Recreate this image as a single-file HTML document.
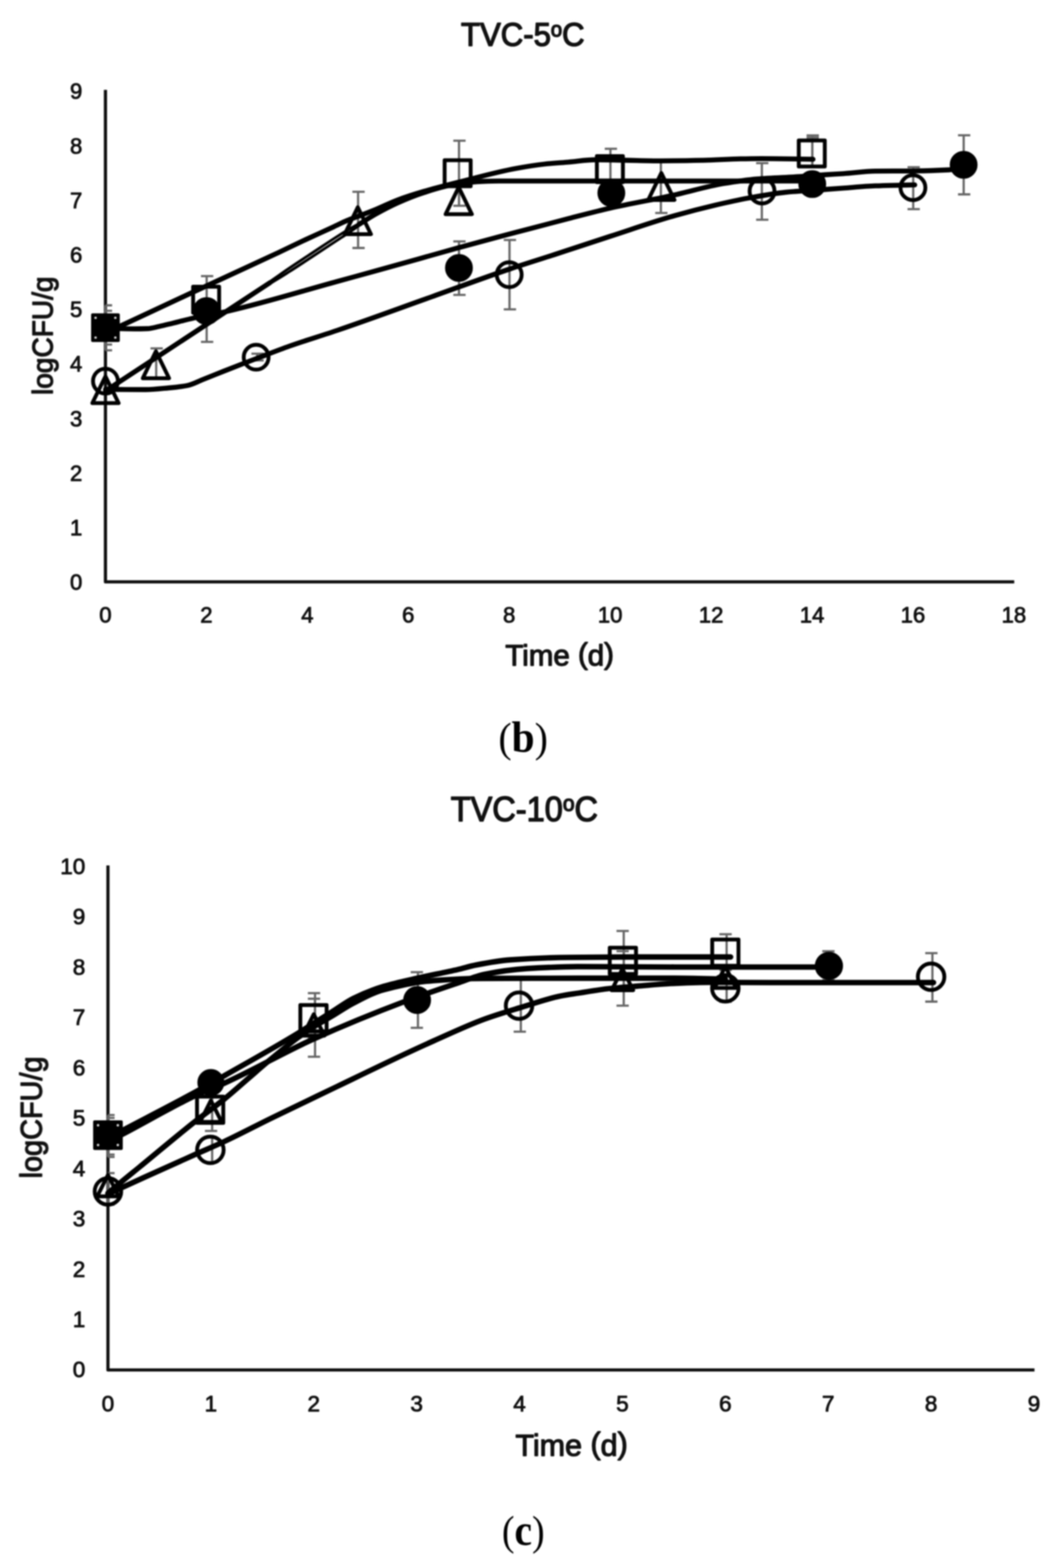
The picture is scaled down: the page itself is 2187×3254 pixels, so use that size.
<!DOCTYPE html>
<html lang="en">
<head>
<meta charset="utf-8">
<title>TVC growth curves</title>
<style>
html,body{margin:0;padding:0;background:#fff;}
body{width:2187px;height:3254px;overflow:hidden;}
svg{display:block;}
</style>
</head>
<body>
<svg width="2187" height="3254" viewBox="0 0 2187 3254">
<rect x="0" y="0" width="2187" height="3254" fill="#fff"/>
<g style="filter:blur(1.5px)">
<path d="M218.8 186.5 V1207.5 H2104.5" fill="none" stroke="#0d0d0d" stroke-width="6.6" stroke-linejoin="round" stroke-linecap="butt"/>
<text x="170.8" y="1224.2" font-family="'Liberation Sans', Arial, sans-serif" font-size="45.8" font-weight="normal" text-anchor="end" fill="#111" stroke="#111" stroke-width="1.6" stroke-linejoin="round">0</text>
<text x="170.8" y="1111.0" font-family="'Liberation Sans', Arial, sans-serif" font-size="45.8" font-weight="normal" text-anchor="end" fill="#111" stroke="#111" stroke-width="1.6" stroke-linejoin="round">1</text>
<text x="170.8" y="997.8" font-family="'Liberation Sans', Arial, sans-serif" font-size="45.8" font-weight="normal" text-anchor="end" fill="#111" stroke="#111" stroke-width="1.6" stroke-linejoin="round">2</text>
<text x="170.8" y="884.6" font-family="'Liberation Sans', Arial, sans-serif" font-size="45.8" font-weight="normal" text-anchor="end" fill="#111" stroke="#111" stroke-width="1.6" stroke-linejoin="round">3</text>
<text x="170.8" y="771.4" font-family="'Liberation Sans', Arial, sans-serif" font-size="45.8" font-weight="normal" text-anchor="end" fill="#111" stroke="#111" stroke-width="1.6" stroke-linejoin="round">4</text>
<text x="170.8" y="658.2" font-family="'Liberation Sans', Arial, sans-serif" font-size="45.8" font-weight="normal" text-anchor="end" fill="#111" stroke="#111" stroke-width="1.6" stroke-linejoin="round">5</text>
<text x="170.8" y="545.0" font-family="'Liberation Sans', Arial, sans-serif" font-size="45.8" font-weight="normal" text-anchor="end" fill="#111" stroke="#111" stroke-width="1.6" stroke-linejoin="round">6</text>
<text x="170.8" y="431.8" font-family="'Liberation Sans', Arial, sans-serif" font-size="45.8" font-weight="normal" text-anchor="end" fill="#111" stroke="#111" stroke-width="1.6" stroke-linejoin="round">7</text>
<text x="170.8" y="318.6" font-family="'Liberation Sans', Arial, sans-serif" font-size="45.8" font-weight="normal" text-anchor="end" fill="#111" stroke="#111" stroke-width="1.6" stroke-linejoin="round">8</text>
<text x="170.8" y="205.4" font-family="'Liberation Sans', Arial, sans-serif" font-size="45.8" font-weight="normal" text-anchor="end" fill="#111" stroke="#111" stroke-width="1.6" stroke-linejoin="round">9</text>
<text x="218.8" y="1291.5" font-family="'Liberation Sans', Arial, sans-serif" font-size="45.8" font-weight="normal" text-anchor="middle" fill="#111" stroke="#111" stroke-width="1.6" stroke-linejoin="round">0</text>
<text x="428.2" y="1291.5" font-family="'Liberation Sans', Arial, sans-serif" font-size="45.8" font-weight="normal" text-anchor="middle" fill="#111" stroke="#111" stroke-width="1.6" stroke-linejoin="round">2</text>
<text x="637.7" y="1291.5" font-family="'Liberation Sans', Arial, sans-serif" font-size="45.8" font-weight="normal" text-anchor="middle" fill="#111" stroke="#111" stroke-width="1.6" stroke-linejoin="round">4</text>
<text x="847.1" y="1291.5" font-family="'Liberation Sans', Arial, sans-serif" font-size="45.8" font-weight="normal" text-anchor="middle" fill="#111" stroke="#111" stroke-width="1.6" stroke-linejoin="round">6</text>
<text x="1056.6" y="1291.5" font-family="'Liberation Sans', Arial, sans-serif" font-size="45.8" font-weight="normal" text-anchor="middle" fill="#111" stroke="#111" stroke-width="1.6" stroke-linejoin="round">8</text>
<text x="1266.0" y="1291.5" font-family="'Liberation Sans', Arial, sans-serif" font-size="45.8" font-weight="normal" text-anchor="middle" fill="#111" stroke="#111" stroke-width="1.6" stroke-linejoin="round">10</text>
<text x="1475.4" y="1291.5" font-family="'Liberation Sans', Arial, sans-serif" font-size="45.8" font-weight="normal" text-anchor="middle" fill="#111" stroke="#111" stroke-width="1.6" stroke-linejoin="round">12</text>
<text x="1684.9" y="1291.5" font-family="'Liberation Sans', Arial, sans-serif" font-size="45.8" font-weight="normal" text-anchor="middle" fill="#111" stroke="#111" stroke-width="1.6" stroke-linejoin="round">14</text>
<text x="1894.3" y="1291.5" font-family="'Liberation Sans', Arial, sans-serif" font-size="45.8" font-weight="normal" text-anchor="middle" fill="#111" stroke="#111" stroke-width="1.6" stroke-linejoin="round">16</text>
<text x="2103.8" y="1291.5" font-family="'Liberation Sans', Arial, sans-serif" font-size="45.8" font-weight="normal" text-anchor="middle" fill="#111" stroke="#111" stroke-width="1.6" stroke-linejoin="round">18</text>
<text x="956.5" y="95.3" font-family="'Liberation Sans', Arial, sans-serif" font-size="68" fill="#111" stroke="#111" stroke-width="2.6" stroke-linejoin="round" textLength="256.5" lengthAdjust="spacingAndGlyphs">TVC-5<tspan font-size="44" dy="-19.5">o</tspan><tspan dy="19.5">C</tspan></text>
<text x="1048.5" y="1381.3" font-family="'Liberation Sans', Arial, sans-serif" font-size="61.5" fill="#111" stroke="#111" stroke-width="2.3" stroke-linejoin="round" textLength="225.5" lengthAdjust="spacingAndGlyphs">Time <tspan dy="-4">(</tspan><tspan dy="4">d</tspan><tspan dy="-4">)</tspan></text>
<text transform="translate(109 696.7) rotate(-90)" font-family="'Liberation Sans', Arial, sans-serif" font-size="60" fill="#111" stroke="#111" stroke-width="2.3" stroke-linejoin="round" text-anchor="middle" textLength="246" lengthAdjust="spacingAndGlyphs">logCFU/g</text>
<text x="1085.5" y="1560" font-family="'Liberation Serif', serif" font-size="86" fill="#000" text-anchor="middle" textLength="102.5" lengthAdjust="spacingAndGlyphs">(<tspan font-weight="bold" font-size="90">b</tspan>)</text>
<path d="M218.8 633.6 V727.0 M218.8 633.6 h13.8 M218.8 727.0 h13.8" fill="none" stroke="#666" stroke-width="4.6"/>
<path d="M218.8 645.0 V715.0 M218.8 645.0 h13.8 M218.8 715.0 h13.8" fill="none" stroke="#666" stroke-width="4.6"/>
<path d="M324.1 723.0 V786.0 M312.3 723.0 h25.5 M312.3 786.0 h25.5" fill="none" stroke="#666" stroke-width="4.6"/>
<path d="M428.8 573.0 V709.5 M417.0 573.0 h25.5 M417.0 709.5 h25.5" fill="none" stroke="#666" stroke-width="4.6"/>
<path d="M533.6 734.0 V748.0 M521.7 734.0 h25.5 M521.7 748.0 h25.5" fill="none" stroke="#666" stroke-width="4.6"/>
<path d="M743.0 398.0 V514.6 M731.2 398.0 h25.5 M731.2 514.6 h25.5" fill="none" stroke="#666" stroke-width="4.6"/>
<path d="M952.4 292.0 V427.0 M940.6 292.0 h25.5 M940.6 427.0 h25.5" fill="none" stroke="#666" stroke-width="4.6"/>
<path d="M952.4 501.0 V612.0 M940.6 501.0 h25.5 M940.6 612.0 h25.5" fill="none" stroke="#666" stroke-width="4.6"/>
<path d="M1057.2 498.0 V642.0 M1045.3 498.0 h25.5 M1045.3 642.0 h25.5" fill="none" stroke="#666" stroke-width="4.6"/>
<path d="M1266.6 308.7 V393.0 M1254.8 308.7 h25.5 M1254.8 393.0 h25.5" fill="none" stroke="#666" stroke-width="4.6"/>
<path d="M1371.3 332.0 V442.0 M1359.5 332.0 h25.5 M1359.5 442.0 h25.5" fill="none" stroke="#666" stroke-width="4.6"/>
<path d="M1580.8 338.5 V456.0 M1568.9 338.5 h25.5 M1568.9 456.0 h25.5" fill="none" stroke="#666" stroke-width="4.6"/>
<path d="M1685.5 281.0 V346.0 M1673.6 281.0 h25.5 M1673.6 346.0 h25.5" fill="none" stroke="#666" stroke-width="4.6"/>
<path d="M1685.5 285.5 V346.0 M1673.6 285.5 h25.5 M1673.6 346.0 h25.5" fill="none" stroke="#666" stroke-width="4.6"/>
<path d="M1894.9 347.0 V434.0 M1883.1 347.0 h25.5 M1883.1 434.0 h25.5" fill="none" stroke="#666" stroke-width="4.6"/>
<path d="M1999.6 280.7 V403.4 M1987.8 280.7 h25.5 M1987.8 403.4 h25.5" fill="none" stroke="#666" stroke-width="4.6"/>
<path d="M219.0 691.0 C251.5 675.8 284.0 660.7 316.5 645.5 C343.6 632.8 370.7 620.1 397.8 607.5 C438.5 588.6 479.3 569.9 520.0 551.0 C539.1 542.1 558.3 533.3 577.4 524.3 C596.5 515.3 615.7 505.9 634.8 497.0 C653.9 488.1 673.1 479.6 692.2 470.7 C701.8 466.3 711.3 461.3 720.9 457.3 C728.3 454.2 735.6 451.8 743.0 449.0 C755.3 444.3 767.7 439.6 780.0 434.5 C795.0 428.3 810.0 420.6 825.0 415.0 C843.3 408.1 861.7 402.4 880.0 397.0 C903.9 390.0 927.7 384.0 951.6 378.0 C991.4 368.0 1031.2 356.7 1071.0 349.5 C1090.7 345.9 1110.3 342.6 1130.0 340.5 C1146.7 338.7 1163.3 337.7 1180.0 336.3 C1198.7 334.7 1217.3 331.5 1236.0 331.5 C1255.7 331.5 1275.3 332.2 1295.0 332.5 C1320.3 332.9 1345.7 333.8 1371.0 333.8 C1400.7 333.8 1430.3 333.3 1460.0 332.7 C1485.7 332.2 1511.3 330.1 1537.0 329.7 C1551.3 329.5 1565.7 329.2 1580.0 329.2 C1615.7 329.2 1651.3 330.1 1687.0 330.5" fill="none" stroke="#000" stroke-width="10.3" stroke-linecap="round" stroke-linejoin="round"/>
<path d="M219.0 681.5 C239.3 681.8 259.7 682.5 280.0 682.5 C288.7 682.5 297.3 682.3 306.0 682.0 C314.0 681.7 322.0 679.2 330.0 677.5 C337.0 676.0 344.0 674.3 351.0 672.6 C368.0 668.5 385.0 663.8 402.0 660.0 C426.0 654.6 450.0 650.8 474.0 645.4 C549.3 628.3 624.7 604.6 700.0 584.0 C726.7 576.7 753.3 569.4 780.0 562.0 C810.0 553.7 840.0 545.4 870.0 537.0 C897.2 529.4 924.4 521.5 951.6 514.0 C979.4 506.3 1007.2 498.9 1035.0 491.5 C1056.7 485.7 1078.3 480.2 1100.0 474.5 C1126.7 467.5 1153.3 460.3 1180.0 453.5 C1208.6 446.2 1237.1 438.5 1265.7 432.0 C1309.0 422.2 1352.2 414.9 1395.5 405.5 C1430.6 397.9 1465.6 386.9 1500.7 381.0 C1524.1 377.1 1547.6 373.4 1571.0 371.5 C1600.7 369.1 1630.3 368.4 1660.0 366.5 C1678.0 365.3 1696.0 363.7 1714.0 362.5 C1726.0 361.7 1738.0 361.1 1750.0 360.3 C1772.0 358.8 1794.0 355.4 1816.0 355.2 C1841.3 354.9 1866.7 355.0 1892.0 354.8 C1917.7 354.6 1943.3 353.7 1969.0 352.5 C1979.3 352.0 1989.7 350.8 2000.0 350.0" fill="none" stroke="#000" stroke-width="10.3" stroke-linecap="round" stroke-linejoin="round"/>
<path d="M219.0 811.3 C279.3 771.6 339.7 731.8 400.0 692.1 C453.3 657.0 506.7 621.8 560.0 586.7" fill="none" stroke="#000" stroke-width="10.3" stroke-linecap="round" stroke-linejoin="round"/>
<path d="M745.0 465.5 C756.7 458.3 768.3 450.5 780.0 444.0 C795.0 435.6 810.0 427.7 825.0 421.0 C843.3 412.8 861.7 405.3 880.0 399.5 C903.9 392.0 927.7 384.2 951.6 381.0 C967.7 378.9 983.9 377.1 1000.0 376.5 C1012.0 376.1 1024.0 375.7 1036.0 375.7 C1090.7 375.7 1145.3 375.7 1200.0 375.7 C1266.7 375.7 1333.3 375.7 1400.0 375.7 C1495.3 375.7 1590.7 375.7 1686.0 375.7" fill="none" stroke="#000" stroke-width="10.3" stroke-linecap="round" stroke-linejoin="round"/>
<path d="M219.0 808.0 C246.7 808.2 274.3 808.5 302.0 808.5 C318.0 808.5 334.0 806.5 350.0 805.0 C363.0 803.8 376.0 802.6 389.0 800.0 C399.3 798.0 409.7 792.1 420.0 788.0 C428.3 784.7 436.7 781.3 445.0 778.0 C465.3 769.9 485.7 761.8 506.0 754.0 C514.5 750.7 523.1 747.5 531.6 744.3 C554.4 735.7 577.2 726.6 600.0 718.5 C633.3 706.7 666.7 696.9 700.0 685.5 C765.2 663.3 830.3 639.2 895.5 616.0 C949.3 596.8 1003.2 576.6 1057.0 558.5 C1088.0 548.1 1119.0 538.6 1150.0 528.5 C1188.6 516.0 1227.1 503.0 1265.7 490.5 C1310.5 476.0 1355.2 460.2 1400.0 447.5 C1427.7 439.6 1455.3 432.5 1483.0 426.0 C1506.3 420.5 1529.7 415.2 1553.0 411.0 C1578.7 406.4 1604.3 401.5 1630.0 399.0 C1658.0 396.2 1686.0 395.1 1714.0 393.0 C1726.0 392.1 1738.0 391.2 1750.0 390.3 C1772.0 388.7 1794.0 386.6 1816.0 385.7 C1833.0 385.0 1850.0 384.7 1867.0 384.3 C1877.3 384.1 1887.7 383.9 1898.0 383.7" fill="none" stroke="#000" stroke-width="10.3" stroke-linecap="round" stroke-linejoin="round"/>
<path d="M560.0 584.6 C566.7 579.9 573.3 575.2 580.0 570.5 C586.7 565.8 593.3 561.1 600.0 556.6 C616.7 545.2 633.3 534.4 650.0 523.4 C666.7 512.4 683.3 501.1 700.0 490.5 C707.3 485.8 714.7 481.2 722.0 476.9 C729.7 472.4 737.3 468.2 745.0 463.9" fill="none" stroke="#000" stroke-width="5.6" stroke-linecap="round" stroke-linejoin="round"/>
<path d="M560.0 588.8 C566.7 584.7 573.3 580.6 580.0 576.5 C586.7 572.4 593.3 568.2 600.0 564.0 C616.7 553.4 633.3 542.3 650.0 531.4 C666.7 520.5 683.3 509.4 700.0 498.5 C707.3 493.7 714.7 489.0 722.0 484.1 C729.7 478.9 737.3 473.4 745.0 468.1" fill="none" stroke="#000" stroke-width="5.6" stroke-linecap="round" stroke-linejoin="round"/>
<rect x="192.3" y="653.5" width="53.0" height="53.0" fill="#000" stroke="#000" stroke-width="6.5" stroke-linejoin="round"/>
<circle cx="198.3" cy="659.5" r="2.6" fill="#cfcfcf"/>
<circle cx="198.3" cy="700.5" r="2.6" fill="#cfcfcf"/>
<circle cx="239.3" cy="659.5" r="2.6" fill="#cfcfcf"/>
<circle cx="239.3" cy="700.5" r="2.6" fill="#cfcfcf"/>
<rect x="400.7" y="595.0" width="54.0" height="54.0" fill="none" stroke="#000" stroke-width="8" stroke-linejoin="round"/>
<rect x="922.6" y="332.5" width="54.0" height="54.0" fill="none" stroke="#000" stroke-width="8" stroke-linejoin="round"/>
<rect x="1238.5" y="324.0" width="54.0" height="54.0" fill="none" stroke="#000" stroke-width="8" stroke-linejoin="round"/>
<rect x="1657.4" y="291.5" width="54.0" height="54.0" fill="none" stroke="#000" stroke-width="8" stroke-linejoin="round"/>
<circle cx="428.7" cy="645.7" r="25.6" fill="#000" stroke="#000" stroke-width="6.5"/>
<circle cx="952.3" cy="556.0" r="25.6" fill="#000" stroke="#000" stroke-width="6.5"/>
<circle cx="1268.5" cy="400.6" r="25.6" fill="#000" stroke="#000" stroke-width="6.5"/>
<circle cx="1685.4" cy="382.0" r="25.6" fill="#000" stroke="#000" stroke-width="6.5"/>
<circle cx="1999.5" cy="342.0" r="25.6" fill="#000" stroke="#000" stroke-width="6.5"/>
<path d="M218.8 780.9 L246.1 836.6 L191.6 836.6 Z" fill="none" stroke="#000" stroke-width="8" stroke-linejoin="round"/>
<path d="M323.5 729.1 L350.8 784.9 L296.3 784.9 Z" fill="none" stroke="#000" stroke-width="8" stroke-linejoin="round"/>
<path d="M742.4 430.1 L769.7 485.9 L715.2 485.9 Z" fill="none" stroke="#000" stroke-width="8" stroke-linejoin="round"/>
<path d="M951.8 388.6 L979.1 444.4 L924.6 444.4 Z" fill="none" stroke="#000" stroke-width="8" stroke-linejoin="round"/>
<path d="M1372.2 359.1 L1399.5 414.9 L1345.0 414.9 Z" fill="none" stroke="#000" stroke-width="8" stroke-linejoin="round"/>
<circle cx="218.8" cy="791.0" r="25.8" fill="none" stroke="#000" stroke-width="8"/>
<circle cx="531.5" cy="741.3" r="25.8" fill="none" stroke="#000" stroke-width="8"/>
<circle cx="1056.6" cy="570.0" r="25.8" fill="none" stroke="#000" stroke-width="8"/>
<circle cx="1581.2" cy="396.4" r="25.8" fill="none" stroke="#000" stroke-width="8"/>
<circle cx="1894.3" cy="389.4" r="25.8" fill="none" stroke="#000" stroke-width="8"/>
<path d="M224.0 1796 V2843.0 H2146.5" fill="none" stroke="#0d0d0d" stroke-width="6.6" stroke-linejoin="round" stroke-linecap="butt"/>
<text x="177.0" y="2858.4" font-family="'Liberation Sans', Arial, sans-serif" font-size="46.7" font-weight="normal" text-anchor="end" fill="#111" stroke="#111" stroke-width="1.6" stroke-linejoin="round">0</text>
<text x="177.0" y="2754.0" font-family="'Liberation Sans', Arial, sans-serif" font-size="46.7" font-weight="normal" text-anchor="end" fill="#111" stroke="#111" stroke-width="1.6" stroke-linejoin="round">1</text>
<text x="177.0" y="2649.5" font-family="'Liberation Sans', Arial, sans-serif" font-size="46.7" font-weight="normal" text-anchor="end" fill="#111" stroke="#111" stroke-width="1.6" stroke-linejoin="round">2</text>
<text x="177.0" y="2545.1" font-family="'Liberation Sans', Arial, sans-serif" font-size="46.7" font-weight="normal" text-anchor="end" fill="#111" stroke="#111" stroke-width="1.6" stroke-linejoin="round">3</text>
<text x="177.0" y="2440.6" font-family="'Liberation Sans', Arial, sans-serif" font-size="46.7" font-weight="normal" text-anchor="end" fill="#111" stroke="#111" stroke-width="1.6" stroke-linejoin="round">4</text>
<text x="177.0" y="2336.2" font-family="'Liberation Sans', Arial, sans-serif" font-size="46.7" font-weight="normal" text-anchor="end" fill="#111" stroke="#111" stroke-width="1.6" stroke-linejoin="round">5</text>
<text x="177.0" y="2231.8" font-family="'Liberation Sans', Arial, sans-serif" font-size="46.7" font-weight="normal" text-anchor="end" fill="#111" stroke="#111" stroke-width="1.6" stroke-linejoin="round">6</text>
<text x="177.0" y="2127.3" font-family="'Liberation Sans', Arial, sans-serif" font-size="46.7" font-weight="normal" text-anchor="end" fill="#111" stroke="#111" stroke-width="1.6" stroke-linejoin="round">7</text>
<text x="177.0" y="2022.9" font-family="'Liberation Sans', Arial, sans-serif" font-size="46.7" font-weight="normal" text-anchor="end" fill="#111" stroke="#111" stroke-width="1.6" stroke-linejoin="round">8</text>
<text x="177.0" y="1918.4" font-family="'Liberation Sans', Arial, sans-serif" font-size="46.7" font-weight="normal" text-anchor="end" fill="#111" stroke="#111" stroke-width="1.6" stroke-linejoin="round">9</text>
<text x="177.0" y="1814.0" font-family="'Liberation Sans', Arial, sans-serif" font-size="46.7" font-weight="normal" text-anchor="end" fill="#111" stroke="#111" stroke-width="1.6" stroke-linejoin="round">10</text>
<text x="224.0" y="2929.2" font-family="'Liberation Sans', Arial, sans-serif" font-size="46.7" font-weight="normal" text-anchor="middle" fill="#111" stroke="#111" stroke-width="1.6" stroke-linejoin="round">0</text>
<text x="437.5" y="2929.2" font-family="'Liberation Sans', Arial, sans-serif" font-size="46.7" font-weight="normal" text-anchor="middle" fill="#111" stroke="#111" stroke-width="1.6" stroke-linejoin="round">1</text>
<text x="651.0" y="2929.2" font-family="'Liberation Sans', Arial, sans-serif" font-size="46.7" font-weight="normal" text-anchor="middle" fill="#111" stroke="#111" stroke-width="1.6" stroke-linejoin="round">2</text>
<text x="864.5" y="2929.2" font-family="'Liberation Sans', Arial, sans-serif" font-size="46.7" font-weight="normal" text-anchor="middle" fill="#111" stroke="#111" stroke-width="1.6" stroke-linejoin="round">3</text>
<text x="1078.0" y="2929.2" font-family="'Liberation Sans', Arial, sans-serif" font-size="46.7" font-weight="normal" text-anchor="middle" fill="#111" stroke="#111" stroke-width="1.6" stroke-linejoin="round">4</text>
<text x="1291.5" y="2929.2" font-family="'Liberation Sans', Arial, sans-serif" font-size="46.7" font-weight="normal" text-anchor="middle" fill="#111" stroke="#111" stroke-width="1.6" stroke-linejoin="round">5</text>
<text x="1505.0" y="2929.2" font-family="'Liberation Sans', Arial, sans-serif" font-size="46.7" font-weight="normal" text-anchor="middle" fill="#111" stroke="#111" stroke-width="1.6" stroke-linejoin="round">6</text>
<text x="1718.5" y="2929.2" font-family="'Liberation Sans', Arial, sans-serif" font-size="46.7" font-weight="normal" text-anchor="middle" fill="#111" stroke="#111" stroke-width="1.6" stroke-linejoin="round">7</text>
<text x="1932.0" y="2929.2" font-family="'Liberation Sans', Arial, sans-serif" font-size="46.7" font-weight="normal" text-anchor="middle" fill="#111" stroke="#111" stroke-width="1.6" stroke-linejoin="round">8</text>
<text x="2145.5" y="2929.2" font-family="'Liberation Sans', Arial, sans-serif" font-size="46.7" font-weight="normal" text-anchor="middle" fill="#111" stroke="#111" stroke-width="1.6" stroke-linejoin="round">9</text>
<text x="935.3" y="1703.6" font-family="'Liberation Sans', Arial, sans-serif" font-size="71.5" fill="#111" stroke="#111" stroke-width="2.6" stroke-linejoin="round" textLength="305.5" lengthAdjust="spacingAndGlyphs">TVC-10<tspan font-size="46" dy="-20.5">o</tspan><tspan dy="20.5">C</tspan></text>
<text x="1069.5" y="3020.6" font-family="'Liberation Sans', Arial, sans-serif" font-size="63" fill="#111" stroke="#111" stroke-width="2.3" stroke-linejoin="round" textLength="233" lengthAdjust="spacingAndGlyphs">Time <tspan dy="-4">(</tspan><tspan dy="4">d</tspan><tspan dy="-4">)</tspan></text>
<text transform="translate(86.5 2319) rotate(-90)" font-family="'Liberation Sans', Arial, sans-serif" font-size="62.5" fill="#111" stroke="#111" stroke-width="2.3" stroke-linejoin="round" text-anchor="middle" textLength="253" lengthAdjust="spacingAndGlyphs">logCFU/g</text>
<text x="1085.7" y="3206" font-family="'Liberation Serif', serif" font-size="86" fill="#000" text-anchor="middle" textLength="88.5" lengthAdjust="spacingAndGlyphs">(<tspan font-weight="bold" font-size="90">c</tspan>)</text>
<path d="M224.0 2314.0 V2401.0 M224.0 2314.0 h13.8 M224.0 2401.0 h13.8" fill="none" stroke="#666" stroke-width="4.6"/>
<path d="M224.0 2320.0 V2396.0 M224.0 2320.0 h13.8 M224.0 2396.0 h13.8" fill="none" stroke="#666" stroke-width="4.6"/>
<path d="M224.0 2434.5 V2500.0 M224.0 2434.5 h13.8 M224.0 2500.0 h13.8" fill="none" stroke="#666" stroke-width="4.6"/>
<path d="M440.2 2257.0 V2347.0 M425.2 2257.0 h25.5 M425.2 2347.0 h25.5" fill="none" stroke="#666" stroke-width="4.6"/>
<path d="M440.2 2360.0 V2412.0 M425.2 2360.0 h25.5 M425.2 2412.0 h25.5" fill="none" stroke="#666" stroke-width="4.6"/>
<path d="M653.7 2061.0 V2193.0 M638.8 2061.0 h25.5 M638.8 2193.0 h25.5" fill="none" stroke="#666" stroke-width="4.6"/>
<path d="M653.7 2072.6 V2153.0 M638.8 2072.6 h25.5 M638.8 2153.0 h25.5" fill="none" stroke="#666" stroke-width="4.6"/>
<path d="M867.2 2017.5 V2133.0 M852.2 2017.5 h25.5 M852.2 2133.0 h25.5" fill="none" stroke="#666" stroke-width="4.6"/>
<path d="M1080.7 2033.0 V2141.0 M1065.8 2033.0 h25.5 M1065.8 2141.0 h25.5" fill="none" stroke="#666" stroke-width="4.6"/>
<path d="M1294.2 1932.0 V2054.0 M1279.2 1932.0 h25.5 M1279.2 2054.0 h25.5" fill="none" stroke="#666" stroke-width="4.6"/>
<path d="M1294.2 1974.0 V2087.0 M1279.2 1974.0 h25.5 M1279.2 2087.0 h25.5" fill="none" stroke="#666" stroke-width="4.6"/>
<path d="M1507.7 1938.7 V2013.0 M1492.8 1938.7 h25.5 M1492.8 2013.0 h25.5" fill="none" stroke="#666" stroke-width="4.6"/>
<path d="M1507.7 2024.0 V2079.0 M1492.8 2024.0 h25.5 M1492.8 2079.0 h25.5" fill="none" stroke="#666" stroke-width="4.6"/>
<path d="M1721.2 1974.0 V2034.0 M1706.2 1974.0 h25.5 M1706.2 2034.0 h25.5" fill="none" stroke="#666" stroke-width="4.6"/>
<path d="M1934.7 1978.0 V2078.6 M1919.8 1978.0 h25.5 M1919.8 2078.6 h25.5" fill="none" stroke="#666" stroke-width="4.6"/>
<path d="M224.0 2361.7 C234.3 2356.3 244.5 2350.9 254.8 2345.5 C307.1 2318.0 359.4 2291.4 411.7 2262.7 C429.6 2252.9 447.4 2242.7 465.3 2232.5 C516.4 2203.4 567.5 2175.2 618.6 2144.0 C629.4 2137.4 640.2 2130.3 651.0 2123.5 C664.0 2115.3 677.0 2107.2 690.0 2099.0 C704.3 2090.0 718.7 2079.1 733.0 2072.0 C754.0 2061.6 775.0 2053.4 796.0 2047.0 C819.2 2040.0 842.3 2035.3 865.5 2030.0 C893.7 2023.6 921.8 2018.5 950.0 2012.0 C962.6 2009.1 975.1 2005.0 987.7 2002.6 C1011.1 1998.1 1034.6 1993.6 1058.0 1992.0 C1098.9 1989.1 1139.7 1987.3 1180.6 1986.8 C1220.4 1986.3 1260.2 1986.0 1300.0 1986.0 C1333.3 1986.0 1366.7 1986.0 1400.0 1986.0 C1438.7 1986.0 1477.3 1986.0 1516.0 1986.0" fill="none" stroke="#000" stroke-width="11.3" stroke-linecap="round" stroke-linejoin="round"/>
<path d="M224.0 2369.5 C234.3 2364.2 244.5 2358.9 254.8 2353.5 C307.1 2326.2 359.4 2294.8 411.7 2270.7 C429.6 2262.5 447.4 2256.0 465.3 2248.0 C527.2 2220.1 589.1 2183.8 651.0 2156.0 C713.3 2128.0 775.7 2102.4 838.0 2079.0 C875.3 2065.0 912.7 2052.6 950.0 2040.0 C968.3 2033.8 986.7 2025.6 1005.0 2022.0 C1034.3 2016.2 1063.7 2011.8 1093.0 2010.0 C1128.0 2007.9 1163.0 2006.0 1198.0 2006.0 C1265.3 2006.0 1332.7 2006.7 1400.0 2006.8 C1466.7 2006.9 1533.3 2006.9 1600.0 2006.9 C1640.0 2006.9 1680.0 2006.9 1720.0 2006.9" fill="none" stroke="#000" stroke-width="11.3" stroke-linecap="round" stroke-linejoin="round"/>
<path d="M224.0 2476.0 C232.2 2469.2 240.3 2462.3 248.5 2455.5 C262.3 2444.0 276.2 2432.8 290.0 2421.5 C328.0 2390.4 366.0 2358.0 404.0 2328.0 C424.4 2311.9 444.9 2297.6 465.3 2281.0 C482.4 2267.1 499.4 2251.7 516.5 2237.0 C529.3 2226.0 542.0 2214.6 554.8 2204.0 C576.1 2186.3 597.3 2168.5 618.6 2153.0 C629.4 2145.1 640.2 2137.8 651.0 2131.0 C664.0 2122.8 677.0 2115.8 690.0 2108.0 C704.3 2099.4 718.7 2089.4 733.0 2082.0 C754.0 2071.1 775.0 2059.6 796.0 2054.0 C830.7 2044.7 865.3 2037.5 900.0 2035.0 C933.3 2032.6 966.7 2030.7 1000.0 2030.5 C1066.7 2030.1 1133.3 2030.0 1200.0 2030.0 C1266.7 2030.0 1333.3 2030.0 1400.0 2030.0 C1435.0 2030.0 1470.0 2031.3 1505.0 2032.0" fill="none" stroke="#000" stroke-width="11.3" stroke-linecap="round" stroke-linejoin="round"/>
<path d="M224.0 2478.0 C249.3 2466.3 274.7 2454.5 300.0 2443.0 C334.8 2427.1 369.7 2411.6 404.5 2396.0 C424.8 2386.9 445.0 2378.5 465.3 2369.0 C496.9 2354.3 528.4 2337.5 560.0 2322.0 C606.7 2299.2 653.3 2276.9 700.0 2254.5 C745.9 2232.4 791.9 2210.0 837.8 2188.5 C858.5 2178.8 879.3 2169.2 900.0 2160.0 C935.0 2144.5 970.0 2127.8 1005.0 2115.0 C1029.3 2106.1 1053.7 2098.9 1078.0 2091.5 C1106.3 2082.9 1134.7 2072.7 1163.0 2067.0 C1175.3 2064.5 1187.7 2062.9 1200.0 2061.0 C1221.3 2057.7 1242.7 2053.8 1264.0 2051.5 C1283.3 2049.4 1302.7 2048.0 1322.0 2046.5 C1349.3 2044.3 1376.7 2041.6 1404.0 2040.5 C1427.7 2039.5 1451.3 2038.5 1475.0 2038.5 C1516.7 2038.5 1558.3 2039.2 1600.0 2039.2 C1633.3 2039.2 1666.7 2039.2 1700.0 2039.2 C1779.0 2039.2 1858.0 2039.1 1937.0 2039.0" fill="none" stroke="#000" stroke-width="11.3" stroke-linecap="round" stroke-linejoin="round"/>
<rect x="196.5" y="2328.2" width="55.0" height="55.0" fill="#000" stroke="#000" stroke-width="6.5" stroke-linejoin="round"/>
<circle cx="203.5" cy="2335.2" r="2.6" fill="#cfcfcf"/>
<circle cx="203.5" cy="2376.2" r="2.6" fill="#cfcfcf"/>
<circle cx="244.5" cy="2335.2" r="2.6" fill="#cfcfcf"/>
<circle cx="244.5" cy="2376.2" r="2.6" fill="#cfcfcf"/>
<rect x="408.8" y="2275.8" width="54.5" height="54.5" fill="none" stroke="#000" stroke-width="8" stroke-linejoin="round"/>
<rect x="623.2" y="2085.8" width="54.5" height="54.5" fill="none" stroke="#000" stroke-width="8" stroke-linejoin="round"/>
<rect x="1265.2" y="1966.8" width="54.5" height="54.5" fill="none" stroke="#000" stroke-width="8" stroke-linejoin="round"/>
<rect x="1477.8" y="1949.8" width="54.5" height="54.5" fill="none" stroke="#000" stroke-width="8" stroke-linejoin="round"/>
<circle cx="437.5" cy="2246.5" r="24.7" fill="#000" stroke="#000" stroke-width="6.5"/>
<circle cx="865.5" cy="2075.4" r="25.6" fill="#000" stroke="#000" stroke-width="6.5"/>
<circle cx="1720.0" cy="2004.4" r="26.0" fill="#000" stroke="#000" stroke-width="6.5"/>
<path d="M224.0 2438.2 L246.2 2482.7 L201.8 2482.7 Z" fill="none" stroke="#000" stroke-width="8" stroke-linejoin="round"/>
<path d="M437.5 2283.8 L459.8 2328.2 L415.2 2328.2 Z" fill="none" stroke="#000" stroke-width="8" stroke-linejoin="round"/>
<path d="M651.0 2104.8 L673.2 2149.2 L628.8 2149.2 Z" fill="none" stroke="#000" stroke-width="8" stroke-linejoin="round"/>
<path d="M1291.5 2010.5 L1313.8 2054.9 L1269.2 2054.9 Z" fill="none" stroke="#000" stroke-width="8" stroke-linejoin="round"/>
<path d="M1505.0 2005.8 L1527.2 2050.2 L1482.8 2050.2 Z" fill="none" stroke="#000" stroke-width="8" stroke-linejoin="round"/>
<circle cx="224.0" cy="2472.4" r="27.5" fill="none" stroke="#000" stroke-width="8"/>
<circle cx="436.5" cy="2386.3" r="27.5" fill="none" stroke="#000" stroke-width="8"/>
<circle cx="1077.0" cy="2087.0" r="27.5" fill="none" stroke="#000" stroke-width="8"/>
<circle cx="1505.0" cy="2051.0" r="27.5" fill="none" stroke="#000" stroke-width="8"/>
<circle cx="1932.0" cy="2027.0" r="27.5" fill="none" stroke="#000" stroke-width="8"/>
</g>
</svg>
</body>
</html>
